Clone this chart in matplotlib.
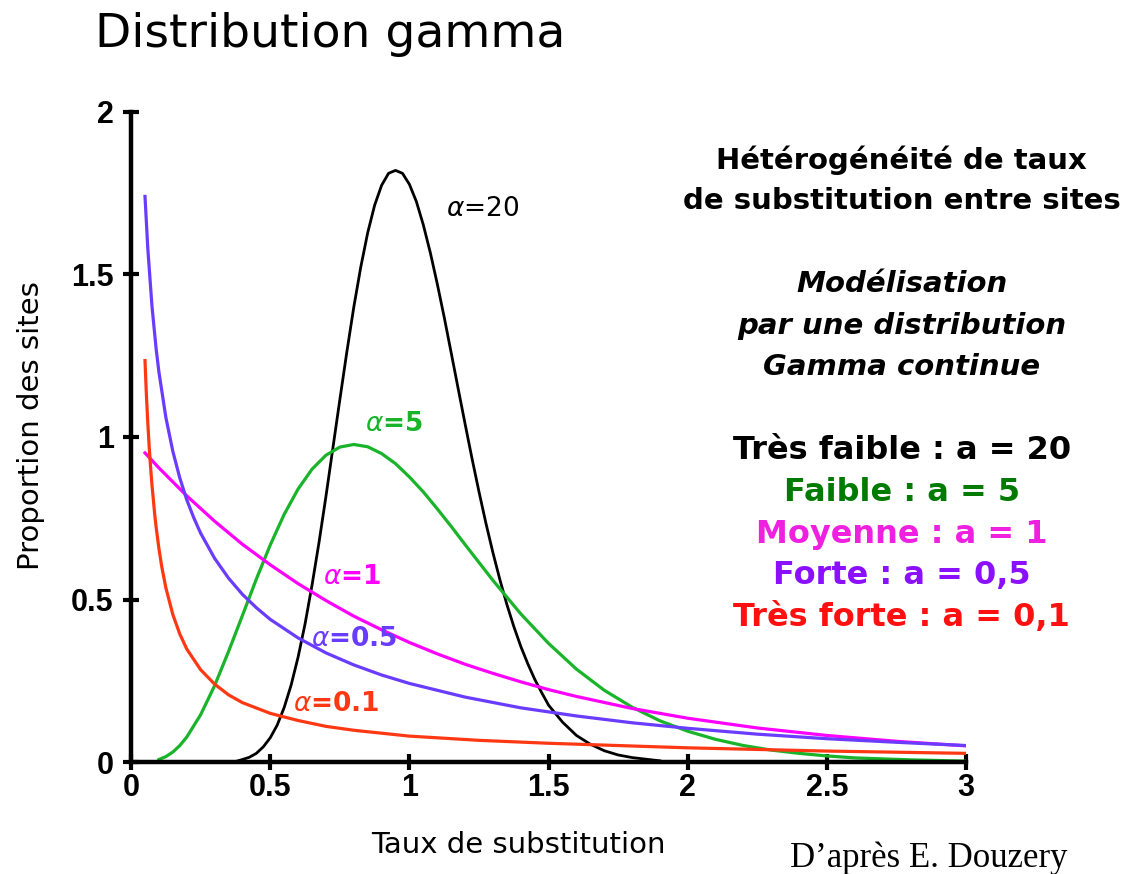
from matplotlib import pyplot as plt

plt.rcParams["font.family"] = ["DejaVu Sans"]
plt.rcParams["mathtext.fontset"] = "dejavusans"

# valeurs (taux de substitution, proportion des sites)
x_a20 = [0.38, 0.40, 0.425, 0.45, 0.475, 0.50, 0.525, 0.55, 0.575, 0.60,
         0.625, 0.65, 0.675, 0.70, 0.725, 0.75, 0.775, 0.80, 0.825, 0.85,
         0.875, 0.90, 0.925, 0.95, 0.975, 1.00, 1.025, 1.05, 1.075, 1.10,
         1.125, 1.15, 1.175, 1.20, 1.225, 1.25, 1.275, 1.30, 1.325, 1.35,
         1.375, 1.40, 1.425, 1.45, 1.475, 1.50, 1.55, 1.60, 1.65, 1.70, 1.75,
         1.80, 1.85, 1.90]
y_a20 = [0.003, 0.008, 0.015, 0.027, 0.047, 0.075, 0.114, 0.168, 0.237, 0.323,
         0.425, 0.544, 0.675, 0.817, 0.966, 1.115, 1.261, 1.399, 1.522, 1.628,
         1.713, 1.774, 1.811, 1.820, 1.811, 1.777, 1.724, 1.652, 1.567, 1.471,
         1.368, 1.259, 1.149, 1.040, 0.933, 0.831, 0.734, 0.644, 0.561, 0.485,
         0.417, 0.356, 0.303, 0.255, 0.214, 0.175, 0.123, 0.082, 0.055, 0.035,
         0.022, 0.014, 0.009, 0.004]

x_a5 = [0.10, 0.125, 0.15, 0.175, 0.20, 0.25, 0.30, 0.35, 0.40, 0.45, 0.50,
        0.55, 0.60, 0.65, 0.70, 0.75, 0.80, 0.85, 0.90, 0.95, 1.00, 1.05, 1.10,
        1.15, 1.20, 1.25, 1.30, 1.40, 1.50, 1.60, 1.70, 1.80, 1.90, 2.00, 2.10,
        2.20, 2.30, 2.40, 2.50, 2.60, 2.80, 3.00]
y_a5 = [0.008, 0.017, 0.031, 0.051, 0.077, 0.146, 0.235, 0.340, 0.451, 0.563,
        0.668, 0.762, 0.840, 0.901, 0.944, 0.969, 0.977, 0.970, 0.949, 0.918,
        0.877, 0.831, 0.779, 0.725, 0.669, 0.614, 0.559, 0.456, 0.365, 0.286,
        0.221, 0.169, 0.127, 0.095, 0.070, 0.051, 0.037, 0.027, 0.019, 0.013,
        0.007, 0.003]

x_a1 = [0.05, 0.10, 0.20, 0.30, 0.40, 0.50, 0.60, 0.70, 0.80, 0.90, 1.00, 1.10,
        1.20, 1.30, 1.40, 1.50, 1.60, 1.80, 2.00, 2.25, 2.50, 2.75, 3.00]
y_a1 = [0.951, 0.905, 0.819, 0.741, 0.670, 0.607, 0.549, 0.497, 0.449, 0.407,
        0.368, 0.333, 0.301, 0.273, 0.247, 0.223, 0.202, 0.165, 0.135, 0.105,
        0.082, 0.064, 0.050]

x_a05 = [0.05, 0.06, 0.075, 0.09, 0.10, 0.125, 0.15, 0.175, 0.20, 0.225, 0.25,
         0.30, 0.35, 0.40, 0.45, 0.50, 0.60, 0.70, 0.80, 0.90, 1.00, 1.20,
         1.40, 1.60, 1.80, 2.00, 2.25, 2.50, 2.75, 3.00]
y_a05 = [1.740, 1.581, 1.403, 1.271, 1.200, 1.060, 0.956, 0.874, 0.807, 0.752,
         0.704, 0.627, 0.566, 0.516, 0.475, 0.439, 0.382, 0.336, 0.299, 0.268,
         0.242, 0.200, 0.167, 0.142, 0.121, 0.104, 0.086, 0.072, 0.061, 0.051]

x_a01 = [0.05, 0.055, 0.06, 0.065, 0.07, 0.075, 0.085, 0.09, 0.10, 0.11, 0.125,
         0.15, 0.175, 0.20, 0.25, 0.30, 0.35, 0.40, 0.50, 0.60, 0.70, 0.80,
         1.00, 1.25, 1.50, 2.00, 2.50, 3.00]
y_a01 = [1.235, 1.130, 1.044, 0.971, 0.908, 0.853, 0.761, 0.723, 0.657, 0.602,
         0.536, 0.454, 0.394, 0.348, 0.284, 0.240, 0.207, 0.183, 0.150, 0.128,
         0.110, 0.098, 0.080, 0.067, 0.058, 0.044, 0.034, 0.027]

xticks = [0, 0.5, 1, 1.5, 2, 2.5, 3]
xtick_labels = ["0", "0.5", "1", "1.5", "2", "2.5", "3"]
yticks = [0, 0.5, 1, 1.5, 2]
ytick_labels = ["0", "0.5", "1", "1.5", "2"]

legend_lines = ["Très faible : a = 20", "Faible : a = 5", "Moyenne : a = 1",
                "Forte : a = 0,5", "Très forte : a = 0,1"]
legend_colors = ["black", "#007a00", "#f020e0", "#8a10ff", "#ff1010"]

fig = plt.figure(figsize=(11.3, 8.74), dpi=100)
ax = fig.add_axes([0.116, 0.128, 0.739, 0.744])

ax.plot(x_a20, y_a20, color="black", lw=2.0)
ax.plot(x_a5, y_a5, color="#19b42a", lw=2.3)
ax.plot(x_a1, y_a1, color="#ff00ff", lw=2.3)
ax.plot(x_a05, y_a05, color="#6a3cff", lw=2.3)
ax.plot(x_a01, y_a01, color="#ff3814", lw=2.3)

ax.set_xlim(0, 3)
ax.set_ylim(0, 2)
for s in ["top", "right"]:
    ax.spines[s].set_visible(False)
for s in ["left", "bottom"]:
    ax.spines[s].set_linewidth(3.2)
ax.set_xticks(xticks)
ax.set_xticklabels(xtick_labels)
ax.set_yticks(yticks)
ax.set_yticklabels(ytick_labels)
ax.tick_params(direction="inout", length=11, width=3, labelsize=22, pad=2)
ax.tick_params(axis="y", pad=7)
for lab in ax.get_xticklabels() + ax.get_yticklabels():
    lab.set_family("Liberation Sans")
    lab.set_fontweight("bold")

# étiquettes des courbes
ax.text(1.13, 1.70, r"$\alpha$=20", fontsize=19, color="black", va="center")
ax.text(0.84, 1.04, r"$\alpha$=5", fontsize=19, color="#19b42a", va="center",
        fontweight="bold")
ax.text(0.69, 0.57, r"$\alpha$=1", fontsize=19, color="#ff00ff", va="center",
        fontweight="bold")
ax.text(0.645, 0.38, r"$\alpha$=0.5", fontsize=19, color="#6a3cff", va="center",
        fontweight="bold")
ax.text(0.58, 0.18, r"$\alpha$=0.1", fontsize=19, color="#ff3814", va="center",
        fontweight="bold")

fig.text(0.084, 0.961, "Distribution gamma", fontsize=34, va="center")
fig.text(0.027, 0.513, "Proportion des sites", fontsize=21, rotation=90,
         va="center", ha="center")
fig.text(0.459, 0.033, "Taux de substitution", fontsize=21, va="center",
         ha="center")
fig.text(0.699, 0.018, "D’après E. Douzery", fontsize=25, va="center",
         family="Liberation Serif")

cx = 0.798
fig.text(cx, 0.817, "Hétérogénéité de taux", fontsize=21, fontweight="bold",
         ha="center", va="center")
fig.text(cx, 0.770, "de substitution entre sites", fontsize=21,
         fontweight="bold", ha="center", va="center")
fig.text(cx, 0.675, "Modélisation", fontsize=21, fontweight="bold",
         style="italic", ha="center", va="center")
fig.text(cx, 0.627, "par une distribution", fontsize=21, fontweight="bold",
         style="italic", ha="center", va="center")
fig.text(cx, 0.580, "Gamma continue", fontsize=21, fontweight="bold",
         style="italic", ha="center", va="center")
for i, (txt, col) in enumerate(zip(legend_lines, legend_colors)):
    fig.text(cx, 0.485 - i * 0.048, txt, fontsize=23, fontweight="bold",
             color=col, ha="center", va="center")

plt.savefig("out.png", dpi=100)
